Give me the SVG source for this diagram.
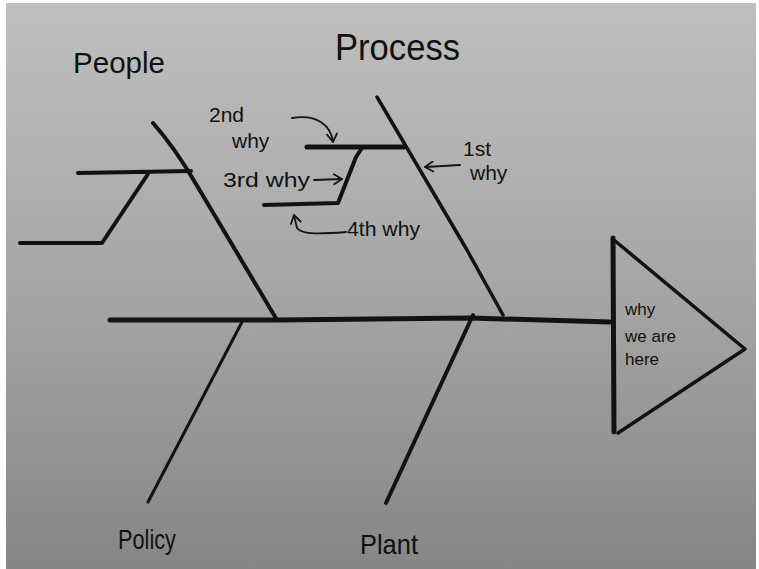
<svg xmlns="http://www.w3.org/2000/svg" width="759" height="569" viewBox="0 0 759 569">
<defs>
<linearGradient id="board" x1="0" y1="0" x2="0" y2="1">
<stop offset="0" stop-color="#bfbfbf"/>
<stop offset="0.5" stop-color="#a6a6a6"/>
<stop offset="1" stop-color="#868686"/>
</linearGradient>
<marker id="ah" viewBox="0 0 12 12" refX="10" refY="6" markerWidth="12" markerHeight="12" markerUnits="userSpaceOnUse" orient="auto">
<path d="M2,1 L10,6 L2,11" fill="none" stroke="#141414" stroke-width="1.8" stroke-linecap="round" stroke-linejoin="round"/>
</marker>
<style>
.ink{fill:none;stroke:#121212;stroke-linecap:round;stroke-linejoin:round}
.arr{fill:none;stroke:#141414;stroke-width:1.8;stroke-linecap:round;marker-end:url(#ah)}
.t{font-family:"Liberation Sans","DejaVu Sans",sans-serif;fill:#111}
.big{font-size:30px}
.mid{font-size:21px}
.sm{font-size:17px}
</style>
</defs>
<rect width="759" height="569" fill="#ffffff"/>
<rect x="6" y="3" width="750" height="566" fill="url(#board)"/>

<g id="connectors">
<path id="spine" class="ink" stroke-width="5" d="M110,320 L278,320 L470,318 L610,322"/>
<path id="bone-people" class="ink" stroke-width="4" d="M153,123 C168,140 182,160 196,184 L277,320"/>
<path id="bone-process" class="ink" stroke-width="3.5" d="M377,97 L467,250 L503,315"/>
<path id="bone-policy" class="ink" stroke-width="3" d="M242,322 L148,502"/>
<path id="bone-plant" class="ink" stroke-width="4" d="M473,315 L386,503"/>
<path id="people-sub" class="ink" stroke-width="4" d="M78,173 L191,171 M148,174 L102,243 L20,243"/>
<path id="process-sub" class="ink" stroke-width="5" d="M307,147 L404,147"/>
<path id="process-sub2" class="ink" stroke-width="4" d="M362,148 L356,157 L338,203 L264,205"/>
<path id="arrow-2nd" class="arr" d="M292,118 C318,114 331,126 333,142"/>
<path id="arrow-3rd" class="arr" d="M314,180 L342,179"/>
<path id="arrow-4th" class="arr" d="M346,232 C322,234 302,235 297,228 L294,215"/>
<path id="arrow-1st" class="arr" d="M460,165 L425,167"/>
</g>

<g id="head">
<path class="ink" stroke-width="5" d="M613,238 L614,432"/>
<path class="ink" stroke-width="3.5" d="M614,240 L745,349 L618,433"/>
<text class="t sm" x="625" y="315">why</text>
<text class="t sm" x="625" y="342">we are</text>
<text class="t sm" x="625" y="365">here</text>
</g>

<g id="label-people"><text class="t big" x="73" y="73" textLength="92" lengthAdjust="spacingAndGlyphs">People</text></g>
<g id="label-process"><text class="t" x="335" y="60" font-size="36" textLength="125" lengthAdjust="spacingAndGlyphs">Process</text></g>
<g id="label-policy"><text class="t" x="118" y="549" font-size="28" textLength="58" lengthAdjust="spacingAndGlyphs">Policy</text></g>
<g id="label-plant"><text class="t" x="360" y="554" font-size="28" textLength="58" lengthAdjust="spacingAndGlyphs">Plant</text></g>

<g id="why-2nd">
<text class="t mid" x="209" y="122">2nd</text>
<text class="t mid" x="232" y="148">why</text>
</g>
<g id="why-3rd"><text class="t mid" x="223" y="187" textLength="87" lengthAdjust="spacingAndGlyphs">3rd why</text></g>
<g id="why-4th"><text class="t mid" x="347" y="236" textLength="73" lengthAdjust="spacingAndGlyphs">4th why</text></g>
<g id="why-1st">
<text class="t mid" x="463" y="156">1st</text>
<text class="t mid" x="470" y="180">why</text>
</g>
</svg>
